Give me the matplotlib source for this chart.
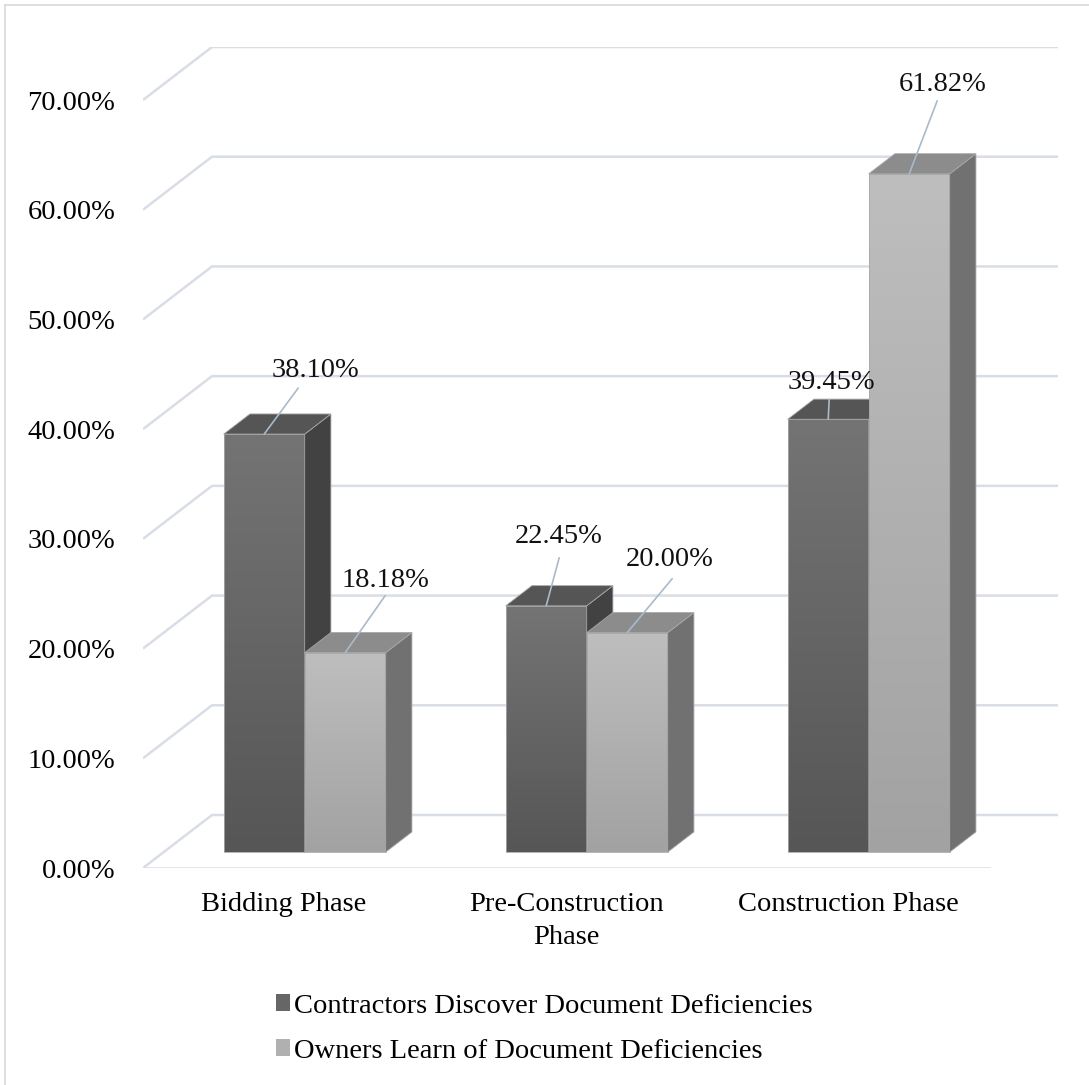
import numpy as np
import matplotlib
matplotlib.use("Agg")
import matplotlib.pyplot as plt
from matplotlib.patches import Polygon, Patch
from matplotlib.colors import LinearSegmentedColormap
from matplotlib.lines import Line2D

plt.rcParams["font.family"] = ["Liberation Serif", "DejaVu Serif"]

# data
phases = ["Bidding Phase", "Pre-Construction\nPhase", "Construction Phase"]
contractors = [38.10, 22.45, 39.45]
owners = [18.18, 20.00, 61.82]
series_names = ["Contractors Discover Document Deficiencies",
                "Owners Learn of Document Deficiencies"]
yticks = [0, 10, 20, 30, 40, 50, 60, 70]

# label offsets in pixels (text centre, leader end) from front-top centre of bar
contr_lbl = [((51, 64), (34, 46)), ((12, 69), (13, 48)), ((3, 37), (1, 20))]
owner_lbl = [((40, 72), (40, 57)), ((42, 73), (45, 54)), ((33, 89), (28, 73))]

FS = 20.5
W, H = 1089, 1085
fig = plt.figure(figsize=(W / 100, H / 100), dpi=100)

# axes area in pixels
left_px, right_px, bot_px, top_px = 143, 1058, 868, 47
ax = fig.add_axes([left_px / W, 1 - bot_px / H,
                   (right_px - left_px) / W, (bot_px - top_px) / H])

ncat = len(phases)
depth_px = (69, 53)
x_ppu = (989 - 143) / ncat          # pixels per category unit
y_ppu = 768 / 70                    # pixels per percent
DX = depth_px[0] / x_ppu
DY = depth_px[1] / y_ppu
xmax = ncat + DX
ymax = 70 + DY

grid_c = "#d9dde6"
for v in yticks:
    ax.plot([0, DX, xmax], [v, v + DY, v + DY], color=grid_c, lw=1.8,
            zorder=1, solid_capstyle="butt")
ax.plot([0, ncat], [0, 0], color=grid_c, lw=1.8, zorder=1)

bar_w = 81 / x_ppu
d_front, d_back = 0.30, 0.68

dark = LinearSegmentedColormap.from_list("dk", ["#565656", "#747474"])
light = LinearSegmentedColormap.from_list("lt", ["#a2a2a2", "#bebebe"])
grad = np.linspace(0, 1, 256).reshape(-1, 1)
edge_c = "#a8a8a8"


def draw_bar(x0, h, cmap, top_c, side_c):
    x1 = x0 + bar_w
    fx, fy = d_front * DX, d_front * DY
    bx, by = d_back * DX, d_back * DY
    ax.imshow(grad, cmap=cmap, origin="lower", aspect="auto",
              extent=[x0 + fx, x1 + fx, fy, h + fy], zorder=3)
    ax.add_patch(Polygon([(x0 + fx, fy), (x1 + fx, fy), (x1 + fx, h + fy),
                          (x0 + fx, h + fy)], closed=True, fill=False,
                         edgecolor=edge_c, lw=0.6, zorder=3))
    ax.add_patch(Polygon([(x1 + fx, fy), (x1 + bx, by), (x1 + bx, h + by),
                          (x1 + fx, h + fy)], closed=True, facecolor=side_c,
                         edgecolor=edge_c, lw=0.6, zorder=3))
    ax.add_patch(Polygon([(x0 + fx, h + fy), (x1 + fx, h + fy),
                          (x1 + bx, h + by), (x0 + bx, h + by)], closed=True,
                         facecolor=top_c, edgecolor=edge_c, lw=0.6, zorder=3))
    return ((x0 + x1) / 2 + fx, h + fy)


def label(pt, val, offs):
    (tx, ty), (lx, ly) = offs
    ax.annotate("", xy=pt, xytext=(lx, ly), textcoords="offset pixels",
                arrowprops=dict(arrowstyle="-", color="#a9bacb", lw=1.2,
                                shrinkA=0, shrinkB=0), zorder=4)
    ax.annotate(f"{val:.2f}%", xy=pt, xytext=(tx, ty),
                textcoords="offset pixels", ha="center", va="center",
                fontsize=FS, color="#111111", zorder=5)


for i in range(ncat):
    c = i + 0.5
    p = draw_bar(c - bar_w, contractors[i], dark, "#555555", "#424242")
    label(p, contractors[i], contr_lbl[i])
    p = draw_bar(c, owners[i], light, "#8c8c8c", "#717171")
    label(p, owners[i], owner_lbl[i])

ax.set_xlim(0, xmax)
ax.set_ylim(0, ymax)
ax.set_yticks(yticks)
ax.set_yticklabels([f"{v:.2f}%" for v in yticks], fontsize=FS)
ax.set_xticks([i + 0.5 for i in range(ncat)])
ax.set_xticklabels(phases, fontsize=FS, linespacing=1.45)
ax.tick_params(length=0, pad=20, axis="y")
ax.tick_params(length=0, pad=17, axis="x")
for s in ax.spines.values():
    s.set_visible(False)

handles = [Patch(facecolor="#666666"), Patch(facecolor="#b0b0b0")]
fig.legend(handles, series_names, loc="upper center",
           bbox_to_anchor=(0.5, 1 - 968 / H), frameon=False, fontsize=FS,
           handlelength=0.5, handleheight=0.5, handletextpad=0.15,
           labelspacing=0.7)

# chart border (top/left)
fig.add_artist(Line2D([5 / W, 5 / W], [0, 1 - 5 / H], color="#d9d9d9", lw=1.2))
fig.add_artist(Line2D([5 / W, 1], [1 - 5 / H, 1 - 5 / H], color="#d9d9d9", lw=1.2))

fig.savefig("out.png", dpi=100)
